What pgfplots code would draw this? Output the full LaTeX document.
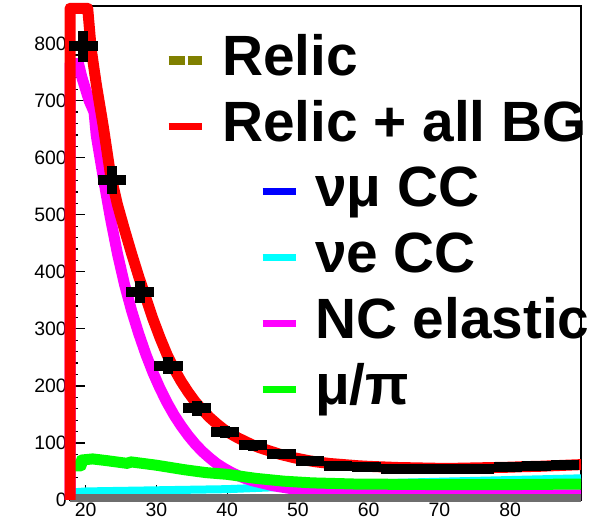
\documentclass[border=0pt]{standalone}
\usepackage{fontspec}
\setmainfont{Liberation Sans}
\usepackage{pgfplots}
\pgfplotsset{compat=1.18}
\definecolor{olivec}{RGB}{128,128,0}
\definecolor{grayc}{RGB}{110,110,110}
\definecolor{pcyan}{RGB}{0,255,255}
\definecolor{pmag}{RGB}{255,0,255}
\definecolor{pgreen}{RGB}{0,255,0}
\definecolor{pblue}{RGB}{0,0,255}
\definecolor{pred}{RGB}{255,0,0}
\begin{document}
\begin{tikzpicture}[x=1bp,y=1bp]
\useasboundingbox (0,0) rectangle (607,526);
\fill[white] (0,0) rectangle (607,526);
\pgfplotsset{
  common/.style={
    at={(70bp,26bp)}, anchor=south west, scale only axis,
    width=511bp, height=494bp,
    xmin=17.8, xmax=90, ymin=0, ymax=866, clip=false,
    legend image code/.code={\draw[##1] (0bp,0bp) -- (33bp,0bp);},
    legend cell align=left,
    legend style={draw=none, fill=none, inner sep=0pt, outer sep=0pt,
      anchor=north west, row sep=12bp, column sep=16bp,
      font=\fontsize{57}{60}\selectfont\bfseries,
      nodes={inner sep=0pt, text height=42bp, text depth=12bp}},
  }
}
\begin{axis}[common,
  axis line style={line width=1.5bp},
  tick align=inside, tick pos=left,
  xtick={20,30,...,80}, ytick={0,100,...,800},
  minor y tick num=4,
  major tick length=15bp, minor tick length=7.5bp,
  every tick/.style={black, line width=1.2bp},
  /pgf/number format/assume math mode=true,
  xticklabel style={font=\fontsize{19.5}{22}\selectfont, inner sep=3bp},
  yticklabel style={font=\fontsize{19.5}{22}\selectfont, inner sep=3bp},
  legend style={at={(0.3699,0.680)}},
]
\addlegendimage{pblue, line width=7bp}
\addlegendentry{νμ CC}
\addlegendimage{pcyan, line width=7bp}
\addlegendentry{νe CC}
\addlegendimage{pmag, line width=7bp}
\addlegendentry{NC elastic}
\addlegendimage{pgreen, line width=7bp}
\addlegendentry{μ/π}
% nu_e CC
\addplot[pcyan, line width=8bp, line join=round, forget plot] coordinates {
 (17.8,13) (20,15) (30,17) (40,19) (50,24) (60,29) (70,32) (80,35) (90,38)};
% NC elastic
\addplot[pmag, line width=11bp, line join=round, forget plot] coordinates {
 (17.8,0) (17.8,765) (19,765) (19.5,740) (20.5,700) (21.2,680) (21.5,640)
 (22.5,565) (23.5,495) (24.5,432) (25.5,378) (26.5,332) (27.5,292) (28.5,256)
 (29.5,224) (30.5,196) (31.5,171) (32.5,149) (33.5,130) (34.5,113) (35.5,98)
 (36.5,85) (37.5,74) (38.5,64) (39.5,56) (40.5,49) (41.5,43) (42.5,38)
 (43.5,34) (44.5,31) (45.5,28) (46.5,25) (47.5,23) (48.5,21) (49.5,19)
 (52,17) (55,15) (58,13) (62,11) (66,10) (70,9) (80,9) (90,9)};
% mu/pi
\addplot[pgreen, line width=11bp, line join=round, forget plot] coordinates {
 (17.8,60) (19.4,60) (19.4,70) (21,72) (23,69) (26,64) (26.3,67) (30,61)
 (34,53) (37,48) (40,45) (44,38) (48,33) (52,30) (58,28) (70,27) (80,27) (90,28)};
% gray band
\addplot[grayc, line width=8bp, forget plot] coordinates {(17.8,3.5) (90,3.5)};
\end{axis}
\begin{axis}[common, hide axis,
  legend style={at={(0.184,0.9453)}},
]
\addlegendimage{olivec, line width=9bp, dash pattern=on 16bp off 3bp}
\addlegendentry{Relic}
\addlegendimage{pred, line width=7bp}
\addlegendentry{Relic + all BG}
\addplot[pred, line width=11bp, line join=round, forget plot] coordinates {
 (17.8,0) (17.8,862) (20.3,862) (20.8,790) (21.5,730) (22.5,655) (23.5,572)
 (24.5,518) (25.5,474) (26.5,432) (27.5,392) (28.5,355) (29.5,318) (30.5,285)
 (31.5,255) (32.5,230) (33.5,208) (34.5,189) (35.5,172) (36.5,158) (37.5,145)
 (38.5,134) (39.5,124) (40.5,116) (41.5,109) (42.5,103) (43.5,97) (44.5,92)
 (45.5,88) (46.5,84) (47.5,80) (48.5,77) (49.5,74) (50.5,71.5) (51.5,69)
 (52.5,67) (53.5,65.5) (54.5,64) (55.5,63) (56.5,62) (57.5,61) (58.5,60)
 (60,59) (62,58) (64,57) (66,56.5) (68,56) (70,55.5) (72,55.5) (74,56)
 (76,56.5) (78,57) (80,57.5) (82,58.5) (84,59) (86,60) (88,61) (90,62)};
\addplot[black, only marks, mark=square*, mark size=0pt, forget plot,
  error bars/.cd, x dir=both, x explicit, y dir=both, y explicit,
  error mark=none, error bar style={line width=10bp, black}]
 table[x=x, y=y, x error=ex, y error=ey] {
 x y ex ey
 19.7 795 2 28
 23.7 561 2 24
 27.7 365 2 19
 31.7 235 2 15
 35.7 161 2 13
 39.7 119 2 11
 43.7 96 2 10
 47.7 80 2 9
 51.7 68 2 8
 55.7 60 2 8
 59.7 57 2 7.5
 63.7 55 2 7.5
 67.7 54 2 7.5
 71.7 54 2 7.5
 75.7 55 2 7.5
 79.7 57 2 7.5
 83.7 59 2 7.7
 87.7 62 2 7.9
 };
\end{axis}
\end{tikzpicture}
\end{document}
